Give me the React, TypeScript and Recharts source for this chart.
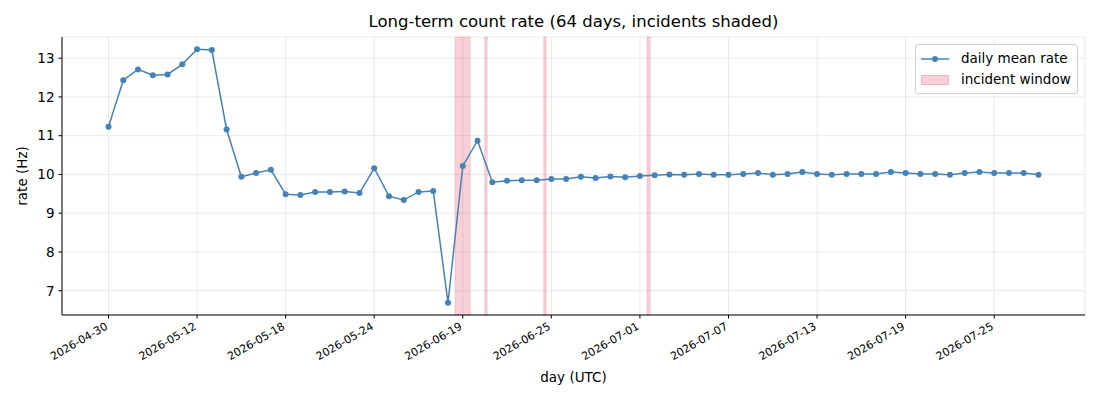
import React from 'react';
import { CartesianGrid, ComposedChart, Legend, Line, ReferenceArea, XAxis, YAxis } from 'recharts';

// daily mean rate (Hz), one point per day slot
const RATES = [
  11.23, 12.43, 12.71, 12.56, 12.58, 12.84, 13.23, 13.21, 11.16, 9.94,
  10.04, 10.12, 9.49, 9.47, 9.55, 9.55, 9.56, 9.52, 10.16, 9.44,
  9.34, 9.55, 9.57, 6.69, 10.22, 10.87, 9.8, 9.84, 9.85, 9.85,
  9.88, 9.88, 9.94, 9.91, 9.95, 9.93, 9.96, 9.98, 10.0, 9.99,
  10.01, 9.99, 9.99, 10.01, 10.04, 9.99, 10.01, 10.06, 10.01, 9.99,
  10.01, 10.01, 10.01, 10.06, 10.04, 10.01, 10.01, 9.99, 10.04, 10.06,
  10.04, 10.04, 10.04, 9.99,
];

const TICK_POS = [0, 6, 12, 18, 24, 30, 36, 42, 48, 54, 60];
const TICK_LABELS = [
  '2026-04-30', '2026-05-12', '2026-05-18', '2026-05-24', '2026-06-19', '2026-06-25',
  '2026-07-01', '2026-07-07', '2026-07-13', '2026-07-19', '2026-07-25',
];
const Y_TICKS = [7, 8, 9, 10, 11, 12, 13];

// incident windows, in day-slot units
const INCIDENT_START = [23.47, 25.48, 29.48, 36.48];
const INCIDENT_END = [24.51, 25.66, 29.65, 36.7];

const data = RATES.map((rate, i) => ({ i, rate }));

const FONT = '"DejaVu Sans", sans-serif';
const BLUE = '#4682b4';

const XTick = (props: any) => {
  const { x, y, payload } = props;
  const idx = TICK_POS.indexOf(payload.value);
  return (
    <text
      transform={`translate(${x},${y + 7}) rotate(-30)`}
      textAnchor="end"
      fontSize={11}
      fontFamily={FONT}
      fill="#000"
    >
      {idx >= 0 ? TICK_LABELS[idx] : ''}
    </text>
  );
};

const LegendBox = () => (
  <div
    style={{
      border: '1px solid #d0d0d0',
      borderRadius: 3,
      background: 'rgba(255,255,255,0.8)',
      padding: '3px 6px 3px 5px',
      fontFamily: FONT,
      fontSize: 13.5,
      lineHeight: '21px',
      color: '#000',
      width: 150,
    }}
  >
    <div style={{ display: 'flex', alignItems: 'center' }}>
      <svg width={28} height={10} style={{ marginRight: 12 }}>
        <line x1={0} y1={5} x2={28} y2={5} stroke={BLUE} strokeWidth={1.5} />
        <circle cx={14} cy={5} r={3} fill={BLUE} />
      </svg>
      daily mean rate
    </div>
    <div style={{ display: 'flex', alignItems: 'center' }}>
      <svg width={28} height={10} style={{ marginRight: 12 }}>
        <rect x={0.5} y={0.5} width={27} height={9} fill="#dc143c" fillOpacity={0.2} stroke="#dc143c" strokeOpacity={0.25} />
      </svg>
      incident window
    </div>
  </div>
);

export default function App() {
  if (typeof document !== 'undefined') document.body.style.margin = '0';
  return (
    <div style={{ position: 'relative', width: 1100, height: 400, background: '#fff' }}>
      <div
        style={{
          position: 'absolute',
          top: 12,
          left: 62,
          width: 1023,
          textAlign: 'center',
          fontFamily: FONT,
          fontSize: 16.5,
          color: '#000',
          zIndex: 1,
        }}
      >
        Long-term count rate (64 days, incidents shaded)
      </div>
      <ComposedChart width={1100} height={400} data={data} margin={{ top: 37, right: 15, bottom: 0, left: 0 }}>
        <CartesianGrid stroke="#e3e3e3" strokeWidth={0.8} />
        {INCIDENT_START.map((s, k) => (
          <ReferenceArea
            key={k}
            x1={s}
            x2={INCIDENT_END[k]}
            fill="#dc143c"
            fillOpacity={0.2}
            stroke="#dc143c"
            strokeOpacity={0.12}
            ifOverflow="extendDomain"
          />
        ))}
        <XAxis
          dataKey="i"
          type="number"
          domain={[-3.15, 66.15]}
          ticks={TICK_POS}
          allowDataOverflow
          height={85}
          tickSize={3.5}
          tickMargin={3}
          tick={<XTick />}
          axisLine={{ stroke: '#000', strokeWidth: 1 }}
          tickLine={{ stroke: '#000' }}
          label={{
            content: () => (
              <text x={573.5} y={382} textAnchor="middle" fontSize={13.5} fontFamily={FONT} fill="#000">
                day (UTC)
              </text>
            ),
          }}
        />
        <YAxis
          type="number"
          domain={[6.374, 13.546]}
          ticks={Y_TICKS}
          allowDataOverflow
          width={62}
          tickSize={3.5}
          tickMargin={4}
          tick={{ fontSize: 13.5, fontFamily: FONT, fill: '#000' }}
          axisLine={{ stroke: '#000', strokeWidth: 1 }}
          tickLine={{ stroke: '#000' }}
          label={{
            content: () => (
              <text
                transform="translate(27,176) rotate(-90)"
                textAnchor="middle"
                fontSize={13.5}
                fontFamily={FONT}
                fill="#000"
              >
                rate (Hz)
              </text>
            ),
          }}
        />
        <Line
          type="linear"
          dataKey="rate"
          stroke={BLUE}
          strokeWidth={1.5}
          dot={{ r: 3, fill: BLUE, stroke: BLUE, strokeWidth: 0 }}
          activeDot={false}
          isAnimationActive={false}
        />
        <Legend
          layout="vertical"
          align="center"
          verticalAlign="middle"
          content={<LegendBox />}
          wrapperStyle={{ top: 44, left: 915, width: 163, height: 46 }}
        />
      </ComposedChart>
    </div>
  );
}
